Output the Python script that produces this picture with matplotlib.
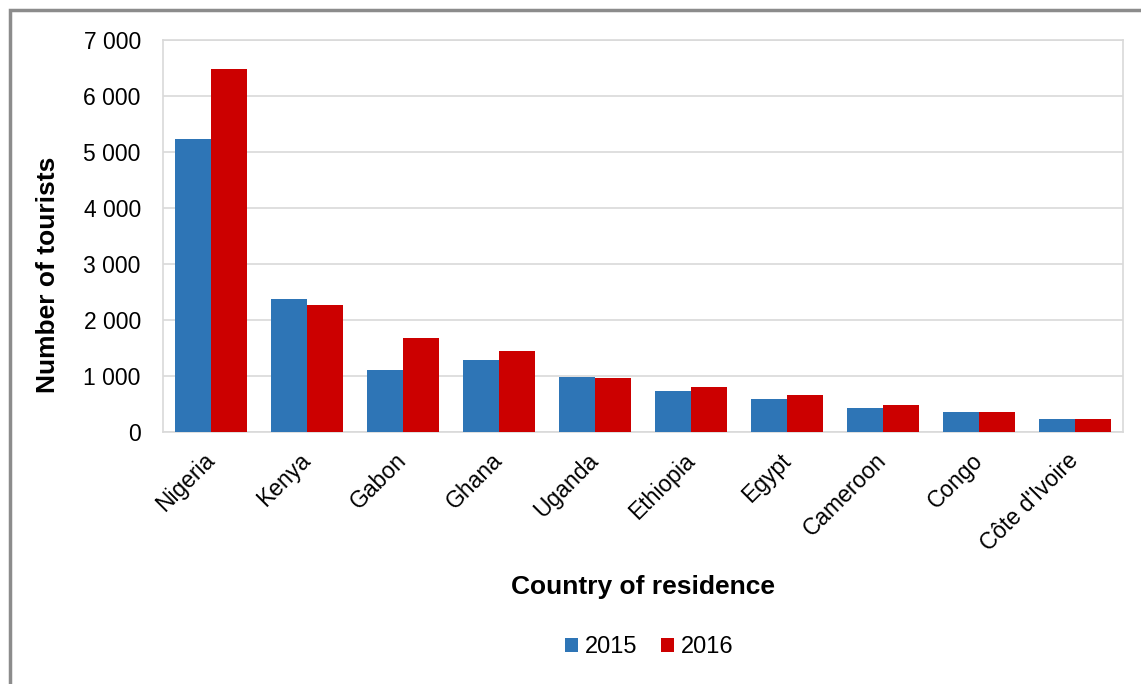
import matplotlib
matplotlib.use("Agg")
import matplotlib.pyplot as plt
from matplotlib.patches import Rectangle
from matplotlib.ticker import FuncFormatter
import numpy as np

countries = ["Nigeria", "Kenya", "Gabon", "Ghana", "Uganda", "Ethiopia",
             "Egypt", "Cameroon", "Congo", "Côte d'Ivoire"]
values_2015 = [5230, 2370, 1110, 1290, 990, 730, 590, 430, 365, 230]
values_2016 = [6480, 2270, 1680, 1450, 960, 800, 660, 480, 365, 230]
series_labels = ["2015", "2016"]
yticks = [0, 1000, 2000, 3000, 4000, 5000, 6000, 7000]

plt.rcParams['font.family'] = ['Liberation Sans', 'DejaVu Sans']

W, H = 1141, 684
fig = plt.figure(figsize=(W / 100, H / 100), dpi=100)
ax = fig.add_axes([163 / W, 1 - 432 / H, (1123 - 163) / W, (432 - 40) / H])

x = np.arange(len(countries))
bw = 0.375
ax.bar(x - bw / 2, values_2015, bw, color="#2E75B6", label=series_labels[0], zorder=3)
ax.bar(x + bw / 2, values_2016, bw, color="#CC0000", label=series_labels[1], zorder=3)

ax.set_xlim(-0.5, len(countries) - 0.5)
ax.set_ylim(0, 7000)
ax.set_yticks(yticks)
ax.yaxis.set_major_formatter(FuncFormatter(lambda v, p: f"{int(v):,}".replace(",", " ")))
ax.grid(axis="y", color="#D9D9D9", linewidth=1.2, zorder=0)
for s in ax.spines.values():
    s.set_color("#D9D9D9")
    s.set_linewidth(1.2)
ax.set_xticks(x)
ax.set_xticklabels(countries, rotation=45, ha="right", va="center", rotation_mode="anchor")
ax.tick_params(axis="both", length=0, labelsize=16.5, colors="black")
ax.tick_params(axis="y", pad=16)
ax.tick_params(axis="x", pad=18)

fig.text(48 / W, 1 - 275 / H, "Number of tourists", rotation=90, ha="center", va="center",
         fontsize=19, fontweight="bold")
fig.text(643 / W, 1 - 587 / H, "Country of residence", ha="center", va="center",
         fontsize=19, fontweight="bold")

leg = fig.legend(loc="center", bbox_to_anchor=(649 / W, 1 - 647 / H), ncol=2, frameon=False,
                 fontsize=17, handlelength=0.55, handleheight=0.55, handletextpad=0.3,
                 columnspacing=1.0)

fig.patches.append(Rectangle((10 / W, -0.1), 1.2, 1 - 10 / H + 0.1, transform=fig.transFigure,
                             fill=False, edgecolor="#8C8C8C", linewidth=2.5))

fig.savefig("out.png", dpi=100)
